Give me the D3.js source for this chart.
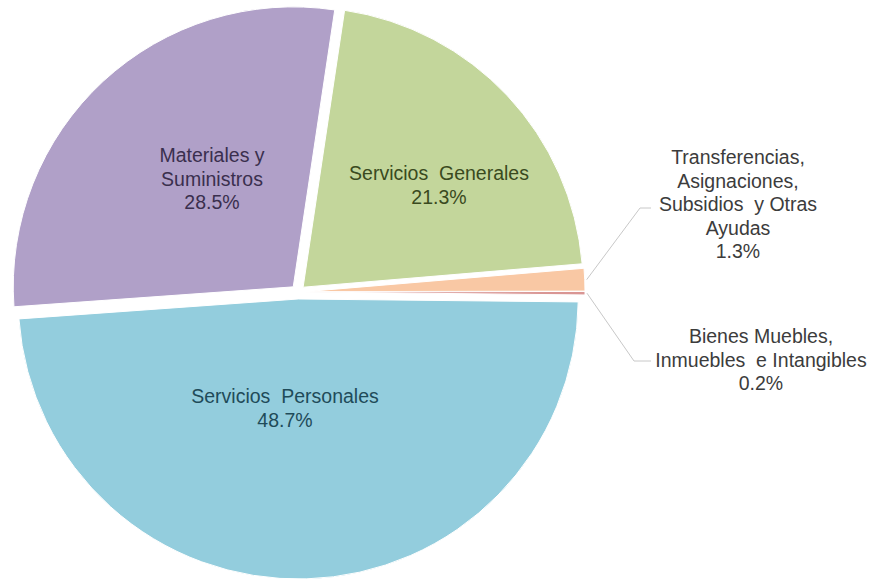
<!DOCTYPE html>
<html>
<head>
<meta charset="utf-8">
<script src="https://cdn.jsdelivr.net/npm/d3@7"></script>
<style>
  html, body { margin: 0; padding: 0; background: #ffffff; }
  svg { display: block; }
  text { font-family: "Liberation Sans", Arial, sans-serif; }
</style>
</head>
<body>
<svg id="chart" width="879" height="580"></svg>
<script>
// ---- data ----
const categories = [
  "Servicios Personales",
  "Materiales y Suministros",
  "Servicios Generales",
  "Transferencias, Asignaciones, Subsidios y Otras Ayudas",
  "Bienes Muebles, Inmuebles e Intangibles"
];
const values = [48.7, 28.5, 21.3, 1.3, 0.2];
const labelLines = [
  ["Servicios  Personales"],
  ["Materiales y", "Suministros"],
  ["Servicios  Generales"],
  ["Transferencias,", "Asignaciones,", "Subsidios  y Otras", "Ayudas"],
  ["Bienes Muebles,", "Inmuebles  e Intangibles"]
];
const colors = ["#93cddd", "#b0a0c8", "#c3d69b", "#f9c8a4", "#d99694"];
const textColors = ["#1f4b59", "#3a2f4e", "#3a4a1e", "#3c3c3c", "#3c3c3c"];

// ---- layout ----
const W = 879, H = 580;
const cx = 298, cy = 292, R = 280, explode = 7;
const deg = Math.PI / 180;
const startAngle = 90.6 * deg;

// label anchor (center x, first baseline) and leader elbows for outside labels
const labelPos = [
  { x: 285, y: 403 },
  { x: 212, y: 162 },
  { x: 439, y: 180 },
  { x: 738, y: 164 },
  { x: 761, y: 343 }
];
const leader = [null, null, null,
  { elbow: [640, 208], end: [651, 208] },
  { elbow: [634, 361], end: [651, 361] }
];
const lineH = 23.5;

const svg = d3.select("#chart");
const pie = d3.pie().sort(null).value(d => d)
  .startAngle(startAngle).endAngle(startAngle + 2 * Math.PI);
const arcs = pie(values);
const arc = d3.arc().innerRadius(0).outerRadius(R);

const g = svg.append("g").attr("transform", `translate(${cx},${cy})`);

function offset(d) {
  const a = (d.startAngle + d.endAngle) / 2;
  return [Math.sin(a) * explode, -Math.cos(a) * explode];
}

g.selectAll("path.slice")
  .data(arcs)
  .enter().append("path")
  .attr("class", "slice")
  .attr("d", arc)
  .attr("fill", (d, i) => colors[i])
  .attr("stroke", "#ffffff")
  .attr("stroke-width", 1)
  .attr("transform", d => { const o = offset(d); return `translate(${o[0]},${o[1]})`; });

// leader lines
arcs.forEach((d, i) => {
  if (!leader[i]) return;
  const a = (d.startAngle + d.endAngle) / 2;
  const o = offset(d);
  const p0 = [cx + o[0] + Math.sin(a) * (R + 2), cy + o[1] - Math.cos(a) * (R + 2)];
  svg.append("polyline")
    .attr("points", [p0, leader[i].elbow, leader[i].end].map(p => p.join(",")).join(" "))
    .attr("fill", "none")
    .attr("stroke", "#c8c8c8")
    .attr("stroke-width", 1);
});

// labels
const fmt = d3.format(".1f");
arcs.forEach((d, i) => {
  const lines = labelLines[i].concat([fmt(values[i]) + "%"]);
  const t = svg.append("text")
    .attr("text-anchor", "middle")
    .attr("font-size", 19.5)
    .attr("fill", textColors[i])
    .style("white-space", "pre");
  lines.forEach((ln, k) => {
    t.append("tspan")
      .attr("x", labelPos[i].x)
      .attr("y", labelPos[i].y + k * lineH)
      .text(ln);
  });
});
</script>
</body>
</html>
